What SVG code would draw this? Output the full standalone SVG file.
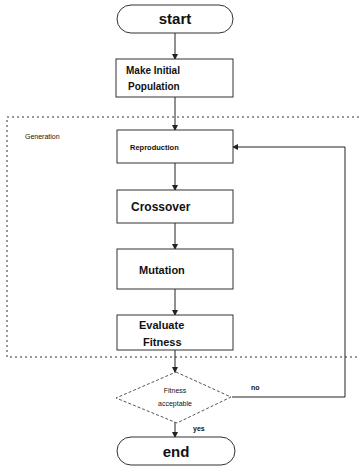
<svg xmlns="http://www.w3.org/2000/svg" width="360" height="466" viewBox="0 0 360 466">
<defs>
<style>
.box{fill:#fff;stroke:#333;stroke-width:1}
.term{fill:#fff;stroke:#333;stroke-width:1}
.dec{fill:#fff;stroke:#555;stroke-width:1;stroke-dasharray:3 2}
.grp{fill:none;stroke:#333;stroke-width:1;stroke-dasharray:2 3}
.con{fill:none;stroke:#222;stroke-width:1}
text{font-family:"Liberation Sans",Arial,sans-serif;fill:#111}
.b{font-weight:bold}
</style>
<marker id="ah" markerWidth="6" markerHeight="6" refX="5" refY="3" orient="auto" markerUnits="userSpaceOnUse">
<path d="M0,0 L6,3 L0,6 Z" fill="#222"/>
</marker>
</defs>
<rect width="360" height="466" fill="#fff"/>
<g id="generation">
<rect class="grp" x="7" y="117" width="360" height="240"/>
<text x="25" y="139" font-size="7">Generation</text>
</g>
<g id="connectors">
<line class="con" x1="175" y1="33" x2="175" y2="59" marker-end="url(#ah)"/>
<line class="con" x1="175" y1="97" x2="175" y2="130" marker-end="url(#ah)"/>
<line class="con" x1="175" y1="163" x2="175" y2="190" marker-end="url(#ah)"/>
<line class="con" x1="175" y1="223" x2="175" y2="249" marker-end="url(#ah)"/>
<line class="con" x1="175" y1="289" x2="175" y2="315" marker-end="url(#ah)"/>
<line class="con" x1="175" y1="350" x2="175" y2="372" marker-end="url(#ah)"/>
<line class="con" x1="175" y1="422" x2="175" y2="437" marker-end="url(#ah)"/>
<polyline class="con" points="232,397 345,397 345,147 233,147" marker-end="url(#ah)"/>
<text x="251" y="390" font-size="7" class="b">no</text>
<text x="193" y="431" font-size="7" class="b">yes</text>
</g>
<g id="start">
<rect class="term" x="117" y="5" width="116" height="28" rx="14" ry="14"/>
<text x="175" y="24" font-size="15" class="b" text-anchor="middle">start</text>
</g>
<g id="init">
<rect class="box" x="116" y="59" width="117" height="38"/>
<text x="126" y="74" font-size="10" class="b">Make Initial</text>
<text x="128" y="90" font-size="10" class="b">Population</text>
</g>
<g id="reproduction">
<rect class="box" x="117" y="130" width="116" height="33"/>
<text x="130" y="150" font-size="7.5" class="b">Reproduction</text>
</g>
<g id="crossover">
<rect class="box" x="117" y="190" width="116" height="33"/>
<text x="131" y="211" font-size="12" class="b">Crossover</text>
</g>
<g id="mutation">
<rect class="box" x="117" y="249" width="116" height="40"/>
<text x="139" y="274" font-size="11" class="b">Mutation</text>
</g>
<g id="evaluate">
<rect class="box" x="117" y="315" width="116" height="35"/>
<text x="139" y="329" font-size="11" class="b">Evaluate</text>
<text x="143" y="346" font-size="11" class="b">Fitness</text>
</g>
<g id="decision">
<polygon class="dec" points="176,372 231,397 177,423 116,398"/>
<text x="175" y="393" font-size="7" text-anchor="middle">Fitness</text>
<text x="175" y="406" font-size="7" text-anchor="middle">acceptable</text>
</g>
<g id="end">
<rect class="term" x="117" y="437" width="118" height="28" rx="14" ry="14"/>
<text x="176" y="457" font-size="15" class="b" text-anchor="middle">end</text>
</g>
</svg>
